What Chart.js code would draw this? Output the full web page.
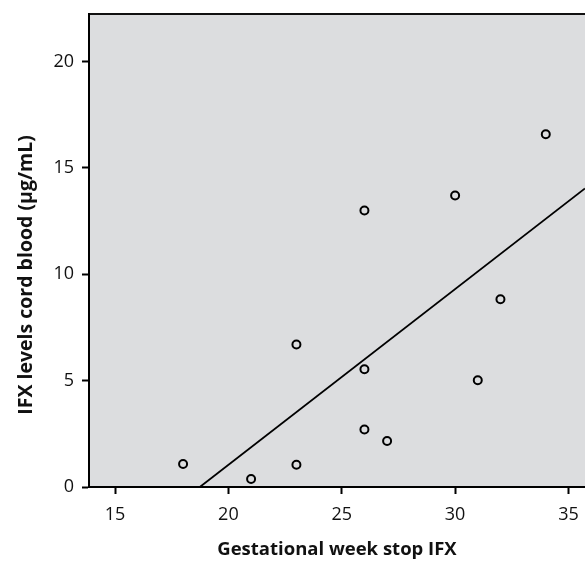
<!DOCTYPE html>
<html lang="en">

<head>
    <meta charset="UTF-8">
    <title>IFX cord blood scatter</title>
    <script src="https://cdn.jsdelivr.net/npm/chart.js"></script>
    <style>
        html, body { margin: 0; padding: 0; background: #fff; }
        #scatter { display: block; }
    </style>
</head>

<body>
    <canvas id="scatter" width="585" height="562"></canvas>

    <script>
        // Gestational week at which IFX was stopped, and IFX level in cord blood
        const weeks = [18, 21, 23, 23, 26, 26, 26, 27, 30, 31, 32, 34];
        const levels = [1.08, 0.38, 1.05, 6.7, 13.0, 5.54, 2.7, 2.16, 13.71, 5.02, 8.83, 16.59];

        // fitted line at its two ends
        const fitWeeks = [18.74, 35.73];
        const fitLevels = [0, 14.04];

        const xTicks = [15, 20, 25, 30, 35];
        const yTicks = [0, 5, 10, 15, 20];

        const xTitle = 'Gestational week stop IFX';
        const yTitle = 'IFX levels cord blood (µg/mL)';

        const points = weeks.map((w, i) => ({ x: w, y: levels[i] }));
        const fitLine = fitWeeks.map((w, i) => ({ x: w, y: fitLevels[i] }));

        const font = "'Open Sans', 'DejaVu Sans', sans-serif";

        // gray plot background, top border line, axis titles
        const plotDeco = {
            id: 'plotDeco',
            beforeDraw(chart) {
                const { ctx, chartArea: a } = chart;
                ctx.save();
                ctx.fillStyle = '#dcdddf';
                ctx.fillRect(a.left, a.top, a.right - a.left, a.bottom - a.top);
                ctx.strokeStyle = '#111';
                ctx.lineWidth = 2;
                ctx.beginPath();
                ctx.moveTo(a.left, a.top);
                ctx.lineTo(a.right, a.top);
                ctx.stroke();
                ctx.restore();
            },
            afterDraw(chart) {
                const { ctx } = chart;
                ctx.save();
                ctx.fillStyle = '#111';
                ctx.textAlign = 'center';
                ctx.textBaseline = 'alphabetic';
                ctx.font = 'bold 18.5px ' + font;
                ctx.fillText(xTitle, 337, 555);
                ctx.font = 'bold 19.5px ' + font;
                ctx.translate(32, 275);
                ctx.rotate(-Math.PI / 2);
                ctx.fillText(yTitle, 0, 0);
                ctx.restore();
            }
        };

        new Chart(document.getElementById('scatter').getContext('2d'), {
            type: 'scatter',
            data: {
                datasets: [{
                    data: points,
                    pointRadius: 4,
                    pointHoverRadius: 4,
                    pointBorderWidth: 2,
                    pointBorderColor: '#000',
                    pointBackgroundColor: 'rgba(0,0,0,0)',
                    order: 1
                }, {
                    data: fitLine,
                    showLine: true,
                    pointRadius: 0,
                    borderColor: '#000',
                    borderWidth: 1.8,
                    order: 2
                }]
            },
            options: {
                responsive: false,
                animation: false,
                layout: { autoPadding: false, padding: { left: 0, right: 0, top: 14, bottom: 0 } },
                plugins: {
                    legend: { display: false },
                    tooltip: { enabled: false }
                },
                scales: {
                    x: {
                        type: 'linear',
                        min: 13.85,
                        max: 35.73,
                        afterBuildTicks: s => { s.ticks = xTicks.map(v => ({ value: v })); },
                        afterFit: s => { s.height = 75; s.paddingLeft = 0; s.paddingRight = 0; },
                        grid: { drawOnChartArea: false, drawTicks: true, tickLength: 7, tickWidth: 2, tickColor: '#000' },
                        border: { display: true, color: '#000', width: 2 },
                        ticks: { color: '#111', padding: 10, maxRotation: 0, font: { family: font, size: 18 } }
                    },
                    y: {
                        min: 0,
                        max: 22.24,
                        afterBuildTicks: s => { s.ticks = yTicks.map(v => ({ value: v })); },
                        afterFit: s => { s.width = 89; s.paddingTop = 0; s.paddingBottom = 0; },
                        grid: { drawOnChartArea: false, drawTicks: true, tickLength: 7, tickWidth: 2, tickColor: '#000' },
                        border: { display: true, color: '#000', width: 2 },
                        ticks: { color: '#111', padding: 8, font: { family: font, size: 18 } }
                    }
                }
            },
            plugins: [plotDeco]
        });
    </script>
</body>

</html>
